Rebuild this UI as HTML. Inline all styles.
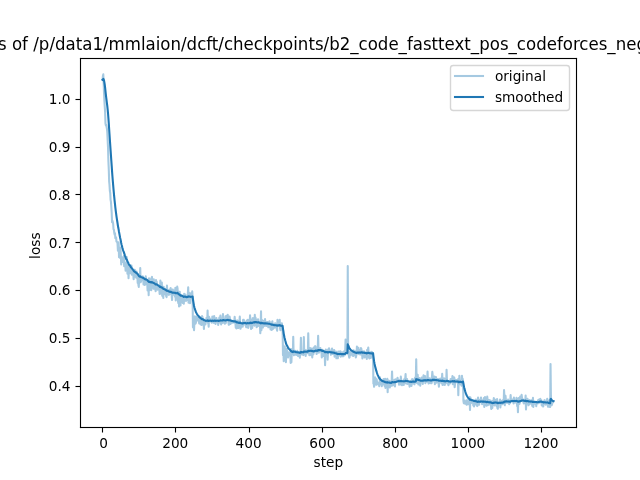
<!DOCTYPE html>
<html lang="en"><head><meta charset="utf-8"><title>loss plot</title>
<style>
html,body{margin:0;padding:0;background:#fff;overflow:hidden}
svg{display:block}
text{font-family:'DejaVu Sans','Liberation Sans',sans-serif;fill:#000}
.t10{font-size:13.889px}
.t12{font-size:16.667px}
</style></head>
<body>
<svg width="640" height="480" viewBox="0 0 640 480">
<rect x="0" y="0" width="640" height="480" fill="#ffffff"/>
<defs><clipPath id="ax"><rect x="80" y="57.6" width="496" height="369.6"/></clipPath></defs>
<g clip-path="url(#ax)" fill="none" stroke="#1f77b4" stroke-width="2.0833" stroke-linejoin="round" stroke-linecap="square">
<polyline stroke-opacity="0.4" points="102.55,79.74 102.91,76.06 103.28,74.39 103.64,82.47 104.01,92.54 104.38,100.34 104.74,106.31 105.11,111.85 105.47,123.35 105.84,125.25 106.21,124.79 106.57,126.70 106.94,128.84 107.30,132.48 107.67,140.10 108.04,148.06 108.40,161.31 108.77,168.95 109.13,181.06 109.50,184.89 109.87,190.95 110.23,192.87 110.60,199.85 110.96,201.90 111.33,207.12 111.70,212.77 112.06,222.23 112.43,220.69 112.79,221.99 113.16,223.92 113.53,229.30 113.89,229.53 114.26,232.73 114.62,234.64 114.99,233.30 115.36,238.10 115.72,237.84 116.09,237.31 116.45,241.34 116.82,241.66 117.19,242.17 117.55,243.61 117.92,250.69 118.28,246.43 118.65,242.27 119.02,257.13 119.38,247.86 119.75,252.88 120.11,258.00 120.48,247.66 120.85,254.95 121.21,264.39 121.58,259.14 121.94,257.39 122.31,261.40 122.68,257.98 123.04,261.92 123.41,259.12 123.77,256.15 124.14,266.29 124.51,262.83 124.87,266.36 125.24,264.18 125.60,270.65 125.97,268.40 126.34,267.16 126.70,256.97 127.07,262.07 127.43,273.79 127.80,271.89 128.17,265.84 128.53,278.24 128.90,271.69 129.26,270.43 129.63,264.68 130.00,267.66 130.36,272.69 130.73,273.28 131.09,273.14 131.46,265.49 131.83,274.76 132.19,274.47 132.56,271.76 132.92,274.96 133.29,274.81 133.66,279.25 134.02,274.52 134.39,276.76 134.75,269.72 135.12,272.33 135.49,275.68 135.85,272.81 136.22,277.66 136.58,271.61 136.95,276.70 137.32,274.30 137.68,282.98 138.05,275.70 138.41,285.12 138.78,286.86 139.15,279.16 139.51,282.04 139.88,277.37 140.24,268.08 140.61,282.23 140.98,281.45 141.34,277.85 141.71,276.71 142.07,279.92 142.44,280.22 142.81,276.26 143.17,277.24 143.54,284.44 143.90,280.26 144.27,279.89 144.64,284.99 145.00,279.16 145.37,284.39 145.73,276.23 146.10,279.92 146.47,280.54 146.83,283.78 147.20,281.78 147.56,290.47 147.93,286.68 148.30,280.04 148.66,295.26 149.03,278.20 149.39,290.16 149.76,278.96 150.13,286.42 150.49,279.22 150.86,282.34 151.22,290.10 151.59,277.62 151.96,276.92 152.32,283.95 152.69,285.08 153.05,284.74 153.42,288.62 153.79,279.38 154.15,287.05 154.52,285.02 154.88,288.60 155.25,288.05 155.62,291.23 155.98,279.92 156.35,286.54 156.71,281.66 157.08,286.20 157.45,289.63 157.81,288.17 158.18,289.44 158.54,287.07 158.91,289.02 159.28,288.89 159.64,294.00 160.01,291.62 160.37,280.65 160.74,291.43 161.11,293.38 161.47,287.27 161.84,282.62 162.20,295.84 162.57,290.39 162.94,292.53 163.30,297.88 163.67,286.75 164.03,290.41 164.40,290.19 164.77,294.15 165.13,288.83 165.50,293.51 165.86,291.88 166.23,296.43 166.60,297.09 166.96,285.66 167.33,294.20 167.69,290.73 168.06,292.38 168.43,294.40 168.79,294.87 169.16,289.86 169.52,294.26 169.89,293.75 170.26,293.12 170.62,287.99 170.99,290.35 171.35,291.82 171.72,296.23 172.09,300.06 172.45,289.58 172.82,289.61 173.18,294.76 173.55,291.77 173.91,290.79 174.28,290.68 174.65,290.38 175.01,296.75 175.38,287.90 175.74,300.56 176.11,291.05 176.48,289.65 176.84,291.13 177.21,286.63 177.57,288.49 177.94,300.51 178.31,303.05 178.67,291.73 179.04,306.58 179.40,295.63 179.77,291.83 180.14,303.18 180.50,305.37 180.87,294.67 181.23,295.71 181.60,297.06 181.97,295.80 182.33,299.92 182.70,302.92 183.06,296.83 183.43,300.52 183.80,303.61 184.16,293.88 184.53,296.49 184.89,294.39 185.26,300.77 185.63,299.29 185.99,300.88 186.36,300.40 186.72,295.51 187.09,299.97 187.46,294.81 187.82,294.90 188.19,287.26 188.55,302.80 188.92,292.45 189.29,296.91 189.65,296.58 190.02,303.12 190.38,298.64 190.75,293.18 191.12,296.95 191.48,296.22 191.85,297.92 192.21,291.37 192.58,296.73 192.95,327.35 193.31,325.64 193.68,326.44 194.04,330.13 194.41,321.97 194.78,316.35 195.14,320.08 195.51,323.61 195.87,322.83 196.24,316.68 196.61,319.56 196.97,319.88 197.34,320.40 197.70,319.90 198.07,317.62 198.44,318.36 198.80,319.48 199.17,323.34 199.53,318.85 199.90,322.52 200.27,317.37 200.63,324.51 201.00,321.27 201.36,321.01 201.73,325.03 202.10,316.12 202.46,316.91 202.83,322.63 203.19,318.98 203.56,320.16 203.93,329.05 204.29,320.57 204.66,321.51 205.02,321.09 205.39,324.55 205.76,322.17 206.12,321.91 206.49,317.87 206.85,320.42 207.22,321.44 207.59,310.55 207.95,323.06 208.32,322.54 208.68,326.75 209.05,316.69 209.42,318.45 209.78,318.57 210.15,319.28 210.51,320.91 210.88,320.58 211.25,321.94 211.61,322.62 211.98,320.98 212.34,316.63 212.71,319.45 213.08,321.24 213.44,322.73 213.81,322.84 214.17,316.15 214.54,319.34 214.91,320.58 215.27,321.75 215.64,323.96 216.00,320.81 216.37,317.97 216.74,321.67 217.10,321.12 217.47,321.04 217.83,320.01 218.20,325.00 218.57,320.92 218.93,322.73 219.30,317.55 219.66,322.44 220.03,318.42 220.40,315.59 220.76,321.02 221.13,324.36 221.49,319.49 221.86,320.04 222.23,322.96 222.59,318.62 222.96,313.99 223.32,320.72 223.69,321.37 224.06,323.01 224.42,319.03 224.79,323.74 225.15,323.40 225.52,316.39 225.89,322.94 226.25,317.11 226.62,315.87 226.98,319.69 227.35,318.89 227.72,314.81 228.08,321.25 228.45,322.49 228.81,324.82 229.18,320.75 229.55,316.55 229.91,318.20 230.28,323.95 230.64,323.80 231.01,322.86 231.38,320.61 231.74,322.19 232.11,321.05 232.47,320.91 232.84,322.79 233.21,322.13 233.57,321.50 233.94,322.47 234.30,320.83 234.67,316.89 235.04,320.79 235.40,322.43 235.77,327.64 236.13,321.54 236.50,328.51 236.87,326.97 237.23,320.30 237.60,320.79 237.96,324.00 238.33,328.06 238.70,324.14 239.06,325.10 239.43,321.25 239.79,316.49 240.16,322.59 240.53,328.83 240.89,326.73 241.26,323.41 241.62,323.75 241.99,326.62 242.36,322.84 242.72,326.58 243.09,319.85 243.45,319.98 243.82,319.90 244.19,324.50 244.55,321.55 244.92,323.45 245.28,324.19 245.65,324.03 246.02,326.85 246.38,327.24 246.75,320.56 247.11,323.44 247.48,322.19 247.85,319.82 248.21,327.89 248.58,325.03 248.94,322.15 249.31,321.46 249.68,323.70 250.04,315.22 250.41,321.88 250.77,326.06 251.14,329.04 251.51,319.99 251.87,321.00 252.24,328.00 252.60,318.36 252.97,318.10 253.34,318.36 253.70,323.48 254.07,323.21 254.43,325.67 254.80,314.80 255.17,322.84 255.53,317.61 255.90,324.23 256.26,321.82 256.63,327.25 257.00,325.02 257.36,319.42 257.73,326.09 258.09,319.24 258.46,321.47 258.83,325.61 259.19,324.05 259.56,325.87 259.92,322.79 260.29,333.21 260.66,325.19 261.02,311.30 261.39,330.13 261.75,326.69 262.12,323.06 262.49,320.34 262.85,327.56 263.22,323.09 263.58,325.09 263.95,326.13 264.32,320.77 264.68,324.91 265.05,319.00 265.41,325.83 265.78,322.44 266.15,324.33 266.51,325.96 266.88,322.05 267.24,324.32 267.61,322.14 267.98,324.14 268.34,327.27 268.71,324.41 269.07,324.01 269.44,321.38 269.81,326.96 270.17,324.44 270.54,329.49 270.90,322.50 271.27,327.70 271.64,329.90 272.00,324.78 272.37,321.38 272.73,329.23 273.10,327.99 273.47,327.02 273.83,328.21 274.20,323.77 274.56,327.32 274.93,327.11 275.30,323.27 275.66,327.28 276.03,323.79 276.39,327.99 276.76,328.75 277.13,330.63 277.49,319.70 277.86,326.21 278.22,324.57 278.59,325.43 278.96,324.90 279.32,325.26 279.69,319.79 280.05,328.57 280.42,330.15 280.79,328.57 281.15,329.57 281.52,323.43 281.88,323.26 282.25,328.58 282.62,329.89 282.98,355.27 283.35,345.31 283.71,361.26 284.08,352.22 284.45,356.24 284.81,346.65 285.18,355.87 285.54,353.60 285.91,362.17 286.28,355.18 286.64,348.91 287.01,350.35 287.37,353.52 287.74,354.71 288.11,357.35 288.47,353.36 288.84,352.43 289.20,352.60 289.57,352.65 289.94,355.38 290.30,352.63 290.67,363.00 291.03,349.11 291.40,362.10 291.77,352.92 292.13,354.60 292.50,352.74 292.86,354.15 293.23,336.75 293.60,352.67 293.96,355.25 294.33,350.89 294.69,352.74 295.06,350.88 295.43,352.92 295.79,354.34 296.16,354.90 296.52,353.01 296.89,353.82 297.26,350.88 297.62,352.35 297.99,355.90 298.35,352.11 298.72,355.80 299.09,353.86 299.45,352.99 299.82,357.65 300.18,351.92 300.55,351.74 300.92,337.76 301.28,353.20 301.65,353.04 302.01,354.60 302.38,352.71 302.75,353.43 303.11,351.71 303.48,355.08 303.84,337.04 304.21,351.45 304.58,352.15 304.94,352.89 305.31,350.24 305.67,356.03 306.04,350.40 306.41,350.93 306.77,350.78 307.14,350.47 307.50,353.16 307.87,352.08 308.24,333.18 308.60,350.18 308.97,350.72 309.33,355.21 309.70,349.77 310.07,348.07 310.43,348.44 310.80,350.44 311.16,355.11 311.53,348.49 311.90,351.32 312.26,357.55 312.63,348.47 312.99,354.73 313.36,354.18 313.73,352.39 314.09,347.33 314.46,351.66 314.82,349.97 315.19,346.09 315.56,346.50 315.92,350.97 316.29,351.34 316.65,354.02 317.02,352.53 317.39,349.59 317.75,349.67 318.12,335.89 318.48,348.10 318.85,352.75 319.22,350.87 319.58,348.80 319.95,349.26 320.31,348.04 320.68,349.88 321.05,351.80 321.41,350.10 321.78,357.45 322.14,355.50 322.51,349.72 322.88,351.46 323.24,350.57 323.61,355.91 323.97,352.47 324.34,353.15 324.71,353.91 325.07,365.10 325.44,352.69 325.80,349.55 326.17,351.02 326.54,353.71 326.90,352.27 327.27,350.35 327.63,359.71 328.00,352.88 328.37,351.23 328.73,348.46 329.10,348.39 329.46,349.99 329.83,352.26 330.20,352.39 330.56,351.22 330.93,354.78 331.29,353.54 331.66,351.12 332.03,348.43 332.39,354.07 332.76,353.85 333.12,353.27 333.49,350.33 333.86,354.02 334.22,350.14 334.59,356.63 334.95,354.64 335.32,354.75 335.69,352.23 336.05,351.62 336.42,358.33 336.78,356.75 337.15,353.44 337.52,356.05 337.88,358.31 338.25,351.55 338.61,352.97 338.98,352.96 339.35,355.50 339.71,351.52 340.08,354.85 340.44,351.32 340.81,356.59 341.18,356.42 341.54,353.62 341.91,355.96 342.27,352.29 342.64,353.33 343.01,356.39 343.37,353.72 343.74,354.79 344.10,351.40 344.47,355.43 344.84,354.87 345.20,350.48 345.57,339.48 345.93,348.30 346.30,353.35 346.67,352.89 347.03,349.38 347.40,353.73 347.76,265.96 348.13,353.07 348.50,352.18 348.86,355.53 349.23,357.67 349.59,357.11 349.96,351.56 350.33,355.30 350.69,353.66 351.06,352.72 351.42,351.63 351.79,354.13 352.16,351.93 352.52,355.57 352.89,354.18 353.25,355.93 353.62,350.26 353.99,353.31 354.35,355.18 354.72,354.17 355.08,353.83 355.45,351.41 355.82,357.45 356.18,355.98 356.55,354.25 356.91,346.60 357.28,350.75 357.65,353.56 358.01,351.40 358.38,347.85 358.74,353.86 359.11,354.20 359.48,350.03 359.84,351.91 360.21,351.43 360.57,354.52 360.94,348.11 361.31,348.67 361.67,351.66 362.04,351.34 362.40,358.46 362.77,351.44 363.14,353.61 363.50,351.95 363.87,351.28 364.23,353.95 364.60,357.48 364.97,352.05 365.33,354.95 365.70,353.85 366.06,354.55 366.43,353.84 366.80,359.00 367.16,349.70 367.53,351.28 367.89,349.94 368.26,347.63 368.63,352.76 368.99,357.55 369.36,358.44 369.72,355.96 370.09,354.09 370.46,352.55 370.82,358.01 371.19,351.84 371.55,356.70 371.92,351.93 372.29,352.99 372.65,353.52 373.02,352.87 373.38,383.49 373.75,383.81 374.12,386.75 374.48,382.53 374.85,377.71 375.21,377.47 375.58,379.32 375.95,381.06 376.31,384.81 376.68,379.28 377.04,383.27 377.41,383.35 377.78,383.98 378.14,382.68 378.51,384.46 378.87,383.58 379.24,386.20 379.61,384.31 379.97,377.31 380.34,383.48 380.70,383.91 381.07,381.87 381.44,381.39 381.80,386.17 382.17,383.77 382.53,380.79 382.90,382.44 383.27,382.76 383.63,378.94 384.00,384.75 384.36,382.68 384.73,386.12 385.10,378.86 385.46,387.85 385.83,384.42 386.19,383.99 386.56,380.79 386.93,380.88 387.29,378.74 387.66,392.29 388.02,380.31 388.39,383.00 388.76,383.92 389.12,380.69 389.49,384.47 389.85,387.45 390.22,382.90 390.59,385.81 390.95,385.90 391.32,380.77 391.68,380.86 392.05,371.60 392.42,382.09 392.78,385.54 393.15,383.43 393.51,383.80 393.88,384.55 394.25,380.16 394.61,382.96 394.98,386.42 395.34,379.35 395.71,381.43 396.08,380.16 396.44,380.78 396.81,379.36 397.17,380.88 397.54,377.68 397.91,379.78 398.27,379.82 398.64,379.74 399.00,384.61 399.37,381.21 399.74,381.47 400.10,380.24 400.47,384.37 400.83,376.50 401.20,380.53 401.57,383.99 401.93,385.31 402.30,381.55 402.66,381.05 403.03,382.71 403.40,380.59 403.76,384.88 404.13,379.38 404.49,382.75 404.86,380.96 405.23,378.31 405.59,374.13 405.96,383.57 406.32,382.16 406.69,383.17 407.06,378.92 407.42,384.02 407.79,382.29 408.15,381.23 408.52,383.63 408.89,383.60 409.25,384.10 409.62,386.64 409.98,384.94 410.35,382.24 410.72,380.77 411.08,381.66 411.45,385.85 411.81,382.41 412.18,379.11 412.55,379.75 412.91,381.44 413.28,383.57 413.64,379.59 414.01,382.79 414.38,384.35 414.74,383.40 415.11,377.49 415.47,380.73 415.84,378.25 416.21,359.23 416.57,378.81 416.94,382.85 417.30,381.67 417.67,374.71 418.04,379.22 418.40,384.39 418.77,381.44 419.13,380.35 419.50,378.02 419.87,382.48 420.23,385.76 420.60,381.91 420.96,381.12 421.33,380.84 421.70,377.62 422.06,380.21 422.43,378.87 422.79,383.87 423.16,378.65 423.53,375.38 423.89,378.82 424.26,380.15 424.62,380.37 424.99,376.04 425.36,383.14 425.72,380.96 426.09,379.41 426.45,378.63 426.82,381.73 427.19,379.75 427.55,371.46 427.92,380.22 428.28,380.88 428.65,383.52 429.02,380.56 429.38,378.19 429.75,383.03 430.11,381.10 430.48,378.71 430.85,383.26 431.21,379.95 431.58,383.21 431.94,377.43 432.31,371.84 432.68,375.16 433.04,381.10 433.41,378.61 433.77,380.27 434.14,380.36 434.51,376.59 434.87,384.17 435.24,377.96 435.60,380.90 435.97,377.10 436.34,380.35 436.70,382.65 437.07,380.19 437.43,379.02 437.80,380.90 438.17,379.74 438.53,382.43 438.90,386.71 439.26,378.76 439.63,379.32 440.00,380.80 440.36,381.05 440.73,378.53 441.09,382.50 441.46,383.19 441.83,381.86 442.19,373.74 442.56,385.08 442.92,378.33 443.29,383.17 443.66,384.41 444.02,378.22 444.39,381.81 444.75,385.00 445.12,382.55 445.49,379.18 445.85,378.52 446.22,382.80 446.58,369.74 446.95,379.85 447.32,383.45 447.68,380.84 448.05,381.88 448.41,385.21 448.78,383.13 449.15,381.68 449.51,381.68 449.88,383.38 450.24,383.03 450.61,378.99 450.98,381.38 451.34,379.63 451.71,378.81 452.07,380.44 452.44,376.03 452.81,384.20 453.17,379.92 453.54,382.90 453.90,377.19 454.27,377.59 454.64,387.19 455.00,384.58 455.37,380.26 455.73,379.92 456.10,380.04 456.47,382.15 456.83,380.75 457.20,380.21 457.56,382.12 457.93,379.20 458.30,395.28 458.66,380.20 459.03,384.57 459.39,375.78 459.76,382.41 460.13,384.11 460.49,380.76 460.86,384.11 461.22,384.08 461.59,385.77 461.96,375.87 462.32,380.27 462.69,378.86 463.05,381.89 463.42,400.83 463.79,403.21 464.15,403.39 464.52,401.71 464.88,400.47 465.25,403.73 465.62,403.41 465.98,403.13 466.35,402.47 466.71,404.73 467.08,400.03 467.45,403.36 467.81,401.21 468.18,404.21 468.54,401.29 468.91,401.12 469.28,402.96 469.64,397.01 470.01,409.86 470.37,397.37 470.74,399.22 471.11,402.99 471.47,402.21 471.84,400.14 472.20,400.72 472.57,400.85 472.94,401.67 473.30,405.33 473.67,401.56 474.03,406.34 474.40,400.17 474.77,402.81 475.13,402.80 475.50,401.64 475.86,399.57 476.23,404.57 476.60,405.35 476.96,403.74 477.33,406.09 477.69,403.54 478.06,397.44 478.43,403.82 478.79,399.79 479.16,404.68 479.52,400.74 479.89,402.28 480.26,401.71 480.62,400.26 480.99,397.47 481.35,401.26 481.72,401.48 482.09,404.16 482.45,400.49 482.82,402.53 483.18,400.01 483.55,402.15 483.91,397.92 484.28,406.86 484.65,402.86 485.01,397.13 485.38,403.06 485.74,404.15 486.11,402.93 486.48,405.62 486.84,402.07 487.21,396.55 487.57,399.69 487.94,405.11 488.31,404.58 488.67,403.50 489.04,400.16 489.40,404.53 489.77,404.22 490.14,400.45 490.50,400.50 490.87,403.47 491.23,408.99 491.60,406.28 491.97,404.25 492.33,407.92 492.70,400.79 493.06,404.09 493.43,401.44 493.80,398.12 494.16,399.79 494.53,405.35 494.89,400.49 495.26,399.78 495.63,404.32 495.99,404.79 496.36,402.75 496.72,406.30 497.09,398.93 497.46,408.18 497.82,408.76 498.19,403.03 498.55,402.90 498.92,401.94 499.29,401.67 499.65,402.81 500.02,399.56 500.38,407.36 500.75,402.20 501.12,403.87 501.48,401.81 501.85,400.82 502.21,404.24 502.58,403.55 502.95,400.09 503.31,401.11 503.68,403.53 504.04,390.16 504.41,396.31 504.78,405.29 505.14,401.04 505.51,395.72 505.87,399.80 506.24,401.11 506.61,402.09 506.97,402.84 507.34,402.01 507.70,402.78 508.07,399.64 508.44,402.33 508.80,402.39 509.17,404.16 509.53,401.36 509.90,403.34 510.27,401.59 510.63,395.13 511.00,400.20 511.36,399.83 511.73,400.16 512.10,400.84 512.46,401.25 512.83,401.65 513.19,399.07 513.56,403.45 513.93,397.62 514.29,400.71 514.66,402.56 515.02,401.90 515.39,402.32 515.76,400.29 516.12,402.36 516.49,397.88 516.85,402.49 517.22,406.07 517.59,402.39 517.95,412.18 518.32,400.76 518.68,398.14 519.05,399.14 519.42,403.89 519.78,402.53 520.15,396.46 520.51,399.97 520.88,400.73 521.25,398.22 521.61,394.89 521.98,397.67 522.34,400.47 522.71,399.99 523.08,399.40 523.44,402.37 523.81,403.47 524.17,400.85 524.54,403.27 524.91,401.19 525.27,400.85 525.64,395.51 526.00,409.52 526.37,401.47 526.74,401.61 527.10,400.20 527.47,398.78 527.83,402.48 528.20,403.29 528.57,405.27 528.93,403.59 529.30,400.11 529.66,401.31 530.03,403.87 530.40,402.35 530.76,401.41 531.13,400.30 531.49,402.95 531.86,402.15 532.23,405.92 532.59,404.35 532.96,397.75 533.32,406.87 533.69,402.46 534.06,401.15 534.42,402.59 534.79,403.65 535.15,401.88 535.52,401.76 535.89,401.97 536.25,406.28 536.62,402.16 536.98,403.87 537.35,403.16 537.72,401.32 538.08,400.35 538.45,399.76 538.81,403.13 539.18,399.76 539.55,399.20 539.91,399.32 540.28,398.75 540.64,402.46 541.01,402.56 541.38,400.20 541.74,405.48 542.11,401.74 542.47,403.55 542.84,403.20 543.21,406.51 543.57,404.51 543.94,402.53 544.30,400.35 544.67,400.17 545.04,402.79 545.40,403.74 545.77,404.70 546.13,401.81 546.50,403.42 546.87,401.44 547.23,398.76 547.60,403.09 547.96,406.65 548.33,405.19 548.70,406.67 549.06,406.11 549.43,400.18 549.79,402.82 550.16,407.06 550.53,364.02 550.89,393.67 551.26,404.46 551.62,405.28 551.99,404.53 552.36,403.10 552.72,402.31 553.09,401.07 553.45,401.06"/>
<polyline points="102.55,79.74 102.91,79.37 103.28,78.87 103.64,79.23 104.01,80.46 104.38,82.35 104.74,84.75 105.11,87.59 105.47,91.12 105.84,94.47 106.21,97.55 106.57,100.50 106.94,103.34 107.30,106.17 107.67,109.56 108.04,113.48 108.40,118.13 108.77,123.17 109.13,128.78 109.50,134.26 109.87,139.76 110.23,145.05 110.60,150.40 110.96,155.58 111.33,160.75 111.70,165.93 112.06,171.32 112.43,176.21 112.79,180.78 113.16,185.11 113.53,189.38 113.89,193.35 114.26,197.19 114.62,200.86 114.99,204.21 115.36,207.52 115.72,210.55 116.09,213.31 116.45,216.06 116.82,218.61 117.19,220.99 117.55,223.26 117.92,225.73 118.28,227.82 118.65,229.57 119.02,231.97 119.38,233.76 119.75,235.70 120.11,237.78 120.48,239.22 120.85,240.97 121.21,243.04 121.58,244.67 121.94,246.07 122.31,247.56 122.68,248.76 123.04,250.06 123.41,251.12 123.77,251.95 124.14,253.23 124.51,254.23 124.87,255.34 125.24,256.25 125.60,257.42 125.97,258.39 126.34,259.22 126.70,259.49 127.07,260.00 127.43,261.08 127.80,261.98 128.17,262.51 128.53,263.63 128.90,264.34 129.26,264.92 129.63,265.18 130.00,265.59 130.36,266.22 130.73,266.85 131.09,267.42 131.46,267.57 131.83,268.19 132.19,268.75 132.56,269.13 132.92,269.65 133.29,270.12 133.66,270.78 134.02,271.15 134.39,271.61 134.75,271.69 135.12,271.90 135.49,272.27 135.85,272.48 136.22,272.92 136.58,273.03 136.95,273.39 137.32,273.62 137.68,274.26 138.05,274.48 138.41,275.16 138.78,275.87 139.15,276.13 139.51,276.52 139.88,276.64 140.24,276.29 140.61,276.70 140.98,277.03 141.34,277.16 141.71,277.23 142.07,277.46 142.44,277.68 142.81,277.70 143.17,277.77 143.54,278.21 143.90,278.39 144.27,278.55 144.64,278.95 145.00,279.03 145.37,279.37 145.73,279.28 146.10,279.39 146.47,279.52 146.83,279.81 147.20,279.98 147.56,280.58 147.93,280.93 148.30,280.92 148.66,281.69 149.03,281.53 149.39,282.00 149.76,281.87 150.13,282.13 150.49,282.02 150.86,282.08 151.22,282.53 151.59,282.32 151.96,282.11 152.32,282.28 152.69,282.50 153.05,282.69 153.42,283.06 153.79,282.94 154.15,283.23 154.52,283.39 154.88,283.74 155.25,284.02 155.62,284.45 155.98,284.29 156.35,284.48 156.71,284.41 157.08,284.60 157.45,284.94 157.81,285.19 158.18,285.49 158.54,285.65 158.91,285.90 159.28,286.13 159.64,286.60 160.01,286.92 160.37,286.67 160.74,286.99 161.11,287.39 161.47,287.46 161.84,287.29 162.20,287.82 162.57,288.03 162.94,288.34 163.30,288.89 163.67,288.84 164.03,288.99 164.40,289.13 164.77,289.46 165.13,289.50 165.50,289.78 165.86,289.96 166.23,290.35 166.60,290.75 166.96,290.54 167.33,290.79 167.69,290.85 168.06,291.00 168.43,291.24 168.79,291.49 169.16,291.47 169.52,291.68 169.89,291.85 170.26,291.98 170.62,291.85 170.99,291.86 171.35,291.94 171.72,292.24 172.09,292.71 172.45,292.61 172.82,292.53 173.18,292.72 173.55,292.75 173.91,292.73 174.28,292.71 174.65,292.69 175.01,292.99 175.38,292.83 175.74,293.32 176.11,293.29 176.48,293.19 176.84,293.18 177.21,292.96 177.57,292.85 177.94,293.35 178.31,293.94 178.67,293.90 179.04,294.62 179.40,294.72 179.77,294.62 180.14,295.10 180.50,295.65 180.87,295.61 181.23,295.63 181.60,295.72 181.97,295.73 182.33,295.96 182.70,296.31 183.06,296.32 183.43,296.52 183.80,296.86 184.16,296.68 184.53,296.64 184.89,296.51 185.26,296.71 185.63,296.82 185.99,297.00 186.36,297.14 186.72,297.02 187.09,297.14 187.46,296.98 187.82,296.85 188.19,296.35 188.55,296.68 188.92,296.46 189.29,296.49 189.65,296.49 190.02,296.83 190.38,296.90 190.75,296.70 191.12,296.71 191.48,296.67 191.85,296.73 192.21,296.46 192.58,296.48 192.95,299.24 193.31,301.64 193.68,303.82 194.04,305.97 194.41,307.49 194.78,308.58 195.14,309.73 195.51,310.95 195.87,312.00 196.24,312.63 196.61,313.35 196.97,314.01 197.34,314.63 197.70,315.16 198.07,315.53 198.44,315.89 198.80,316.28 199.17,316.83 199.53,317.11 199.90,317.55 200.27,317.70 200.63,318.19 201.00,318.48 201.36,318.73 201.73,319.16 202.10,319.11 202.46,319.11 202.83,319.39 203.19,319.47 203.56,319.59 203.93,320.15 204.29,320.23 204.66,320.35 205.02,320.43 205.39,320.69 205.76,320.79 206.12,320.88 206.49,320.75 206.85,320.77 207.22,320.84 207.59,320.35 207.95,320.54 208.32,320.68 208.68,321.02 209.05,320.82 209.42,320.73 209.78,320.65 210.15,320.61 210.51,320.66 210.88,320.68 211.25,320.77 211.61,320.88 211.98,320.90 212.34,320.70 212.71,320.65 213.08,320.70 213.44,320.82 213.81,320.93 214.17,320.69 214.54,320.63 214.91,320.63 215.27,320.69 215.64,320.86 216.00,320.84 216.37,320.68 216.74,320.72 217.10,320.73 217.47,320.73 217.83,320.67 218.20,320.87 218.57,320.84 218.93,320.90 219.30,320.70 219.66,320.76 220.03,320.61 220.40,320.33 220.76,320.36 221.13,320.54 221.49,320.47 221.86,320.42 222.23,320.53 222.59,320.41 222.96,320.06 223.32,320.09 223.69,320.15 224.06,320.28 224.42,320.20 224.79,320.37 225.15,320.51 225.52,320.29 225.89,320.42 226.25,320.25 226.62,320.04 226.98,320.04 227.35,320.01 227.72,319.78 228.08,319.89 228.45,320.07 228.81,320.34 229.18,320.39 229.55,320.22 229.91,320.16 230.28,320.40 230.64,320.61 231.01,320.76 231.38,320.79 231.74,320.90 232.11,320.95 232.47,320.99 232.84,321.12 233.21,321.22 233.57,321.28 233.94,321.38 234.30,321.40 234.67,321.23 235.04,321.27 235.40,321.40 235.77,321.77 236.13,321.81 236.50,322.19 236.87,322.46 237.23,322.37 237.60,322.31 237.96,322.43 238.33,322.74 238.70,322.82 239.06,322.95 239.43,322.87 239.79,322.57 240.16,322.60 240.53,322.95 240.89,323.15 241.26,323.17 241.62,323.20 241.99,323.37 242.36,323.34 242.72,323.49 243.09,323.29 243.45,323.12 243.82,322.96 244.19,323.04 244.55,322.97 244.92,323.00 245.28,323.06 245.65,323.11 246.02,323.29 246.38,323.47 246.75,323.30 247.11,323.28 247.48,323.21 247.85,323.02 248.21,323.25 248.58,323.31 248.94,323.22 249.31,323.10 249.68,323.11 250.04,322.68 250.41,322.63 250.77,322.80 251.14,323.09 251.51,322.90 251.87,322.78 252.24,323.02 252.60,322.75 252.97,322.50 253.34,322.29 253.70,322.35 254.07,322.39 254.43,322.55 254.80,322.15 255.17,322.20 255.53,321.97 255.90,322.10 256.26,322.10 256.63,322.37 257.00,322.49 257.36,322.33 257.73,322.52 258.09,322.35 258.46,322.32 258.83,322.49 259.19,322.57 259.56,322.74 259.92,322.74 260.29,323.26 260.66,323.33 261.02,322.70 261.39,323.08 261.75,323.25 262.12,323.22 262.49,323.06 262.85,323.29 263.22,323.27 263.58,323.35 263.95,323.49 264.32,323.34 264.68,323.42 265.05,323.20 265.41,323.35 265.78,323.31 266.15,323.38 266.51,323.53 266.88,323.47 267.24,323.53 267.61,323.48 267.98,323.54 268.34,323.75 268.71,323.80 269.07,323.83 269.44,323.73 269.81,323.92 270.17,323.96 270.54,324.26 270.90,324.18 271.27,324.37 271.64,324.66 272.00,324.66 272.37,324.50 272.73,324.74 273.10,324.91 273.47,325.01 273.83,325.16 274.20,325.08 274.56,325.18 274.93,325.27 275.30,325.15 275.66,325.26 276.03,325.17 276.39,325.31 276.76,325.48 277.13,325.72 277.49,325.39 277.86,325.43 278.22,325.38 278.59,325.38 278.96,325.35 279.32,325.35 279.69,325.08 280.05,325.27 280.42,325.53 280.79,325.68 281.15,325.88 281.52,325.74 281.88,325.61 282.25,325.77 282.62,325.97 282.98,328.86 283.35,330.94 283.71,333.60 284.08,335.53 284.45,337.46 284.81,338.71 285.18,340.28 285.54,341.58 285.91,343.16 286.28,344.23 286.64,344.88 287.01,345.54 287.37,346.28 287.74,347.01 288.11,347.80 288.47,348.30 288.84,348.71 289.20,349.09 289.57,349.43 289.94,349.88 290.30,350.14 290.67,350.90 291.03,350.89 291.40,351.54 291.77,351.66 292.13,351.85 292.50,351.93 292.86,352.07 293.23,351.33 293.60,351.45 293.96,351.70 294.33,351.70 294.69,351.79 295.06,351.77 295.43,351.87 295.79,352.02 296.16,352.18 296.52,352.23 296.89,352.32 297.26,352.25 297.62,352.26 297.99,352.44 298.35,352.42 298.72,352.58 299.09,352.63 299.45,352.62 299.82,352.85 300.18,352.77 300.55,352.69 300.92,351.91 301.28,351.99 301.65,352.04 302.01,352.17 302.38,352.19 302.75,352.24 303.11,352.20 303.48,352.33 303.84,351.54 304.21,351.55 304.58,351.59 304.94,351.66 305.31,351.59 305.67,351.82 306.04,351.74 306.41,351.69 306.77,351.63 307.14,351.57 307.50,351.64 307.87,351.65 308.24,350.71 308.60,350.72 308.97,350.74 309.33,350.99 309.70,350.94 310.07,350.81 310.43,350.70 310.80,350.71 311.16,350.94 311.53,350.82 311.90,350.85 312.26,351.19 312.63,351.04 312.99,351.21 313.36,351.34 313.73,351.36 314.09,351.12 314.46,351.13 314.82,351.05 315.19,350.78 315.56,350.56 315.92,350.59 316.29,350.63 316.65,350.81 317.02,350.89 317.39,350.81 317.75,350.75 318.12,350.01 318.48,349.95 318.85,350.13 319.22,350.19 319.58,350.15 319.95,350.14 320.31,350.07 320.68,350.10 321.05,350.23 321.41,350.27 321.78,350.67 322.14,350.94 322.51,350.89 322.88,350.94 323.24,350.94 323.61,351.22 323.97,351.29 324.34,351.40 324.71,351.54 325.07,352.22 325.44,352.23 325.80,352.08 326.17,352.02 326.54,352.11 326.90,352.12 327.27,352.05 327.63,352.45 328.00,352.48 328.37,352.42 328.73,352.24 329.10,352.08 329.46,352.02 329.83,352.09 330.20,352.16 330.56,352.17 330.93,352.36 331.29,352.47 331.66,352.45 332.03,352.31 332.39,352.46 332.76,352.60 333.12,352.69 333.49,352.63 333.86,352.77 334.22,352.70 334.59,352.96 334.95,353.11 335.32,353.24 335.69,353.25 336.05,353.22 336.42,353.53 336.78,353.73 337.15,353.75 337.52,353.89 337.88,354.13 338.25,354.01 338.61,353.97 338.98,353.94 339.35,354.03 339.71,353.92 340.08,353.98 340.44,353.86 340.81,354.01 341.18,354.14 341.54,354.11 341.91,354.21 342.27,354.10 342.64,354.06 343.01,354.17 343.37,354.14 343.74,354.15 344.10,354.00 344.47,354.06 344.84,354.08 345.20,353.88 345.57,353.15 345.93,352.93 346.30,352.98 346.67,353.00 347.03,352.84 347.40,352.91 347.76,344.33 348.13,345.22 348.50,345.98 348.86,346.82 349.23,347.69 349.59,348.44 349.96,348.84 350.33,349.39 350.69,349.80 351.06,350.12 351.42,350.35 351.79,350.68 352.16,350.87 352.52,351.23 352.89,351.47 353.25,351.78 353.62,351.78 353.99,351.93 354.35,352.16 354.72,352.31 355.08,352.44 355.45,352.42 355.82,352.72 356.18,352.91 356.55,352.99 356.91,352.69 357.28,352.62 357.65,352.70 358.01,352.66 358.38,352.45 358.74,352.56 359.11,352.68 359.48,352.57 359.84,352.57 360.21,352.55 360.57,352.68 360.94,352.47 361.31,352.32 361.67,352.33 362.04,352.32 362.40,352.67 362.77,352.63 363.14,352.70 363.50,352.68 363.87,352.63 364.23,352.72 364.60,352.97 364.97,352.93 365.33,353.03 365.70,353.07 366.06,353.14 366.43,353.16 366.80,353.44 367.16,353.23 367.53,353.11 367.89,352.94 368.26,352.67 368.63,352.68 368.99,352.93 369.36,353.20 369.72,353.32 370.09,353.33 370.46,353.26 370.82,353.47 371.19,353.36 371.55,353.49 371.92,353.37 372.29,353.32 372.65,353.30 373.02,353.25 373.38,356.20 373.75,358.88 374.12,361.45 374.48,363.55 374.85,365.21 375.21,366.70 375.58,368.13 375.95,369.52 376.31,370.96 376.68,371.98 377.04,373.10 377.41,374.12 377.78,375.07 378.14,375.86 378.51,376.66 378.87,377.34 379.24,378.08 379.61,378.66 379.97,378.82 380.34,379.28 380.70,379.71 381.07,380.00 381.44,380.23 381.80,380.68 382.17,380.96 382.53,381.06 382.90,381.24 383.27,381.40 383.63,381.36 384.00,381.61 384.36,381.73 384.73,382.00 385.10,381.89 385.46,382.23 385.83,382.36 386.19,382.45 386.56,382.37 386.93,382.30 387.29,382.13 387.66,382.65 388.02,382.51 388.39,382.52 388.76,382.58 389.12,382.46 389.49,382.54 389.85,382.76 390.22,382.72 390.59,382.83 390.95,382.93 391.32,382.77 391.68,382.62 392.05,382.02 392.42,382.00 392.78,382.15 393.15,382.18 393.51,382.22 393.88,382.29 394.25,382.14 394.61,382.13 394.98,382.30 395.34,382.10 395.71,382.02 396.08,381.88 396.44,381.78 396.81,381.62 397.17,381.55 397.54,381.33 397.91,381.23 398.27,381.14 398.64,381.05 399.00,381.22 399.37,381.20 399.74,381.19 400.10,381.12 400.47,381.27 400.83,381.00 401.20,380.97 401.57,381.11 401.93,381.31 402.30,381.30 402.66,381.26 403.03,381.31 403.40,381.25 403.76,381.41 404.13,381.28 404.49,381.33 404.86,381.29 405.23,381.12 405.59,380.76 405.96,380.91 406.32,380.97 406.69,381.08 407.06,380.97 407.42,381.12 407.79,381.18 408.15,381.17 408.52,381.29 408.89,381.39 409.25,381.51 409.62,381.75 409.98,381.88 410.35,381.86 410.72,381.77 411.08,381.74 411.45,381.91 411.81,381.90 412.18,381.73 412.55,381.60 412.91,381.58 413.28,381.66 413.64,381.54 414.01,381.59 414.38,381.71 414.74,381.77 415.11,381.53 415.47,381.48 415.84,381.31 416.21,379.17 416.57,379.26 416.94,379.54 417.30,379.73 417.67,379.56 418.04,379.62 418.40,379.94 418.77,380.08 419.13,380.15 419.50,380.10 419.87,380.27 420.23,380.59 420.60,380.69 420.96,380.73 421.33,380.76 421.70,380.62 422.06,380.62 422.43,380.55 422.79,380.74 423.16,380.64 423.53,380.39 423.89,380.34 424.26,380.35 424.62,380.37 424.99,380.17 425.36,380.35 425.72,380.40 426.09,380.36 426.45,380.28 426.82,380.37 427.19,380.35 427.55,379.91 427.92,379.96 428.28,380.04 428.65,380.23 429.02,380.26 429.38,380.17 429.75,380.33 430.11,380.37 430.48,380.30 430.85,380.45 431.21,380.43 431.58,380.56 431.94,380.40 432.31,379.97 432.68,379.76 433.04,379.86 433.41,379.84 433.77,379.90 434.14,379.96 434.51,379.82 434.87,380.08 435.24,380.01 435.60,380.09 435.97,379.98 436.34,380.04 436.70,380.21 437.07,380.25 437.43,380.22 437.80,380.29 438.17,380.30 438.53,380.45 438.90,380.79 439.26,380.71 439.63,380.66 440.00,380.69 440.36,380.74 440.73,380.65 441.09,380.78 441.46,380.93 441.83,380.99 442.19,380.65 442.56,380.91 442.92,380.81 443.29,380.96 443.66,381.16 444.02,381.03 444.39,381.10 444.75,381.32 445.12,381.39 445.49,381.30 445.85,381.17 446.22,381.28 446.58,380.73 446.95,380.73 447.32,380.92 447.68,380.96 448.05,381.04 448.41,381.29 448.78,381.41 449.15,381.45 449.51,381.48 449.88,381.60 450.24,381.68 450.61,381.56 450.98,381.57 451.34,381.49 451.71,381.38 452.07,381.37 452.44,381.13 452.81,381.33 453.17,381.29 453.54,381.41 453.90,381.24 454.27,381.09 454.64,381.45 455.00,381.63 455.37,381.58 455.73,381.52 456.10,381.47 456.47,381.53 456.83,381.51 457.20,381.47 457.56,381.52 457.93,381.42 458.30,382.14 458.66,382.03 459.03,382.15 459.39,381.81 459.76,381.84 460.13,381.95 460.49,381.88 460.86,381.98 461.22,382.07 461.59,382.24 461.96,381.89 462.32,381.79 462.69,381.63 463.05,381.64 463.42,383.68 463.79,385.64 464.15,387.40 464.52,388.90 464.88,390.19 465.25,391.50 465.62,392.66 465.98,393.69 466.35,394.58 466.71,395.48 467.08,396.06 467.45,396.74 467.81,397.25 468.18,397.84 468.54,398.23 468.91,398.57 469.28,398.96 469.64,399.00 470.01,399.68 470.37,399.66 470.74,399.73 471.11,399.98 471.47,400.16 471.84,400.21 472.20,400.28 472.57,400.34 472.94,400.44 473.30,400.71 473.67,400.77 474.03,401.06 474.40,401.02 474.77,401.11 475.13,401.19 475.50,401.21 475.86,401.12 476.23,401.30 476.60,401.49 476.96,401.59 477.33,401.80 477.69,401.85 478.06,401.60 478.43,401.70 478.79,401.59 479.16,401.73 479.52,401.67 479.89,401.69 480.26,401.69 480.62,401.61 480.99,401.41 481.35,401.42 481.72,401.44 482.09,401.59 482.45,401.55 482.82,401.62 483.18,401.56 483.55,401.61 483.91,401.45 484.28,401.76 484.65,401.83 485.01,401.61 485.38,401.72 485.74,401.86 486.11,401.94 486.48,402.14 486.84,402.15 487.21,401.88 487.57,401.80 487.94,402.00 488.31,402.15 488.67,402.24 489.04,402.15 489.40,402.29 489.77,402.40 490.14,402.31 490.50,402.23 490.87,402.31 491.23,402.66 491.60,402.84 491.97,402.89 492.33,403.13 492.70,402.99 493.06,403.02 493.43,402.92 493.80,402.66 494.16,402.52 494.53,402.66 494.89,402.55 495.26,402.41 495.63,402.51 495.99,402.63 496.36,402.62 496.72,402.80 497.09,402.59 497.46,402.86 497.82,403.13 498.19,403.09 498.55,403.04 498.92,402.95 499.29,402.86 499.65,402.83 500.02,402.64 500.38,402.85 500.75,402.79 501.12,402.81 501.48,402.73 501.85,402.60 502.21,402.65 502.58,402.67 502.95,402.50 503.31,402.41 503.68,402.44 504.04,401.80 504.41,401.52 504.78,401.73 505.14,401.69 505.51,401.40 505.87,401.33 506.24,401.33 506.61,401.38 506.97,401.47 507.34,401.50 507.70,401.56 508.07,401.45 508.44,401.49 508.80,401.53 509.17,401.65 509.53,401.62 509.90,401.68 510.27,401.65 510.63,401.30 511.00,401.23 511.36,401.15 511.73,401.09 512.10,401.08 512.46,401.08 512.83,401.10 513.19,400.99 513.56,401.10 513.93,400.92 514.29,400.90 514.66,400.98 515.02,401.01 515.39,401.06 515.76,401.00 516.12,401.05 516.49,400.87 516.85,400.94 517.22,401.18 517.59,401.21 517.95,401.74 518.32,401.63 518.68,401.41 519.05,401.26 519.42,401.36 519.78,401.39 520.15,401.11 520.51,401.03 520.88,401.00 521.25,400.85 521.61,400.55 521.98,400.42 522.34,400.44 522.71,400.44 523.08,400.41 523.44,400.53 523.81,400.70 524.17,400.72 524.54,400.86 524.91,400.89 525.27,400.89 525.64,400.64 526.00,401.10 526.37,401.13 526.74,401.16 527.10,401.11 527.47,401.00 527.83,401.09 528.20,401.21 528.57,401.42 528.93,401.53 529.30,401.45 529.66,401.44 530.03,401.56 530.40,401.60 530.76,401.58 531.13,401.51 531.49,401.59 531.86,401.61 532.23,401.83 532.59,401.94 532.96,401.72 533.32,401.97 533.69,401.98 534.06,401.92 534.42,401.94 534.79,402.02 535.15,402.00 535.52,401.97 535.89,401.96 536.25,402.17 536.62,402.15 536.98,402.22 537.35,402.25 537.72,402.18 538.08,402.08 538.45,401.95 538.81,402.01 539.18,401.90 539.55,401.77 539.91,401.66 540.28,401.53 540.64,401.61 541.01,401.68 541.38,401.63 541.74,401.86 542.11,401.87 542.47,401.97 542.84,402.05 543.21,402.29 543.57,402.41 543.94,402.41 544.30,402.31 544.67,402.22 545.04,402.26 545.40,402.36 545.77,402.49 546.13,402.47 546.50,402.54 546.87,402.50 547.23,402.34 547.60,402.41 547.96,402.65 548.33,402.80 548.70,403.01 549.06,403.18 549.43,403.04 549.79,403.04 550.16,403.26 550.53,399.43 550.89,398.88 551.26,399.39 551.62,399.90 551.99,400.32 552.36,400.63 552.72,400.88 553.09,401.04 553.45,401.18"/>
</g>
<g fill="#000">
<rect x="101.945" y="428" width="1.111" height="4.5"/>
<rect x="174.945" y="428" width="1.111" height="4.5"/>
<rect x="248.945" y="428" width="1.111" height="4.5"/>
<rect x="321.945" y="428" width="1.111" height="4.5"/>
<rect x="394.945" y="428" width="1.111" height="4.5"/>
<rect x="467.945" y="428" width="1.111" height="4.5"/>
<rect x="540.944" y="428" width="1.111" height="4.5"/>
<rect x="75.5" y="385.945" width="4.5" height="1.111"/>
<rect x="75.5" y="337.945" width="4.5" height="1.111"/>
<rect x="75.5" y="289.945" width="4.5" height="1.111"/>
<rect x="75.5" y="241.945" width="4.5" height="1.111"/>
<rect x="75.5" y="193.945" width="4.5" height="1.111"/>
<rect x="75.5" y="146.945" width="4.5" height="1.111"/>
<rect x="75.5" y="98.945" width="4.5" height="1.111"/>
<rect x="79.944" y="57.944" width="1.111" height="370.111"/>
<rect x="575.944" y="57.944" width="1.111" height="370.111"/>
<rect x="79.944" y="57.944" width="497.111" height="1.111"/>
<rect x="79.944" y="426.944" width="497.111" height="1.111"/>
</g>
<g class="t10" text-anchor="middle">
<text transform="translate(103.48 448.28) scale(0.9850 1)">0</text>
<text transform="translate(175.28 448.28) scale(0.9850 1)">200</text>
<text transform="translate(248.58 448.28) scale(0.9850 1)">400</text>
<text transform="translate(322.33 448.28) scale(0.9850 1)">600</text>
<text transform="translate(395.25 448.28) scale(0.9850 1)">800</text>
<text transform="translate(467.92 448.28) scale(0.9850 1)">1000</text>
<text transform="translate(540.96 448.28) scale(0.9850 1)">1200</text>
<text transform="translate(328.30 467.37) scale(0.9850 1)">step</text>
</g>
<g class="t10" text-anchor="end">
<text transform="translate(70.43 391.03) scale(0.9850 1)">0.4</text>
<text transform="translate(70.43 343.19) scale(0.9850 1)">0.5</text>
<text transform="translate(70.43 295.36) scale(0.9850 1)">0.6</text>
<text transform="translate(70.43 247.53) scale(0.9850 1)">0.7</text>
<text transform="translate(70.43 199.69) scale(0.9850 1)">0.8</text>
<text transform="translate(70.43 151.86) scale(0.9850 1)">0.9</text>
<text transform="translate(70.43 104.03) scale(0.9850 1)">1.0</text>
</g>
<text class="t10" text-anchor="middle" transform="translate(39.75 245.70) rotate(-90) scale(0.9850 1)">loss</text>
<text class="t12" text-anchor="middle" transform="translate(338.25 50.00) scale(0.9970 1.0800)">Training loss of /p/data1/mmlaion/dcft/checkpoints/b2_code_fasttext_pos_codeforces_neg_sql_annotated</text>
<rect x="450.5" y="65.5" width="119" height="45" rx="2.78" ry="2.78" fill="#ffffff" fill-opacity="0.8" stroke="#cccccc" stroke-opacity="0.8" stroke-width="1.389"/>
<g fill="none" stroke="#1f77b4" stroke-width="2.0833" stroke-linecap="square">
<line x1="455" y1="76.00" x2="483" y2="76.00" stroke-opacity="0.4"/>
<line x1="455" y1="97.00" x2="483" y2="97.00"/>
</g>
<g class="t10">
<text transform="translate(494.88 81.15) scale(0.9850 1)">original</text>
<text transform="translate(494.88 101.54) scale(0.9850 1)">smoothed</text>
</g>
</svg>
</body></html>
